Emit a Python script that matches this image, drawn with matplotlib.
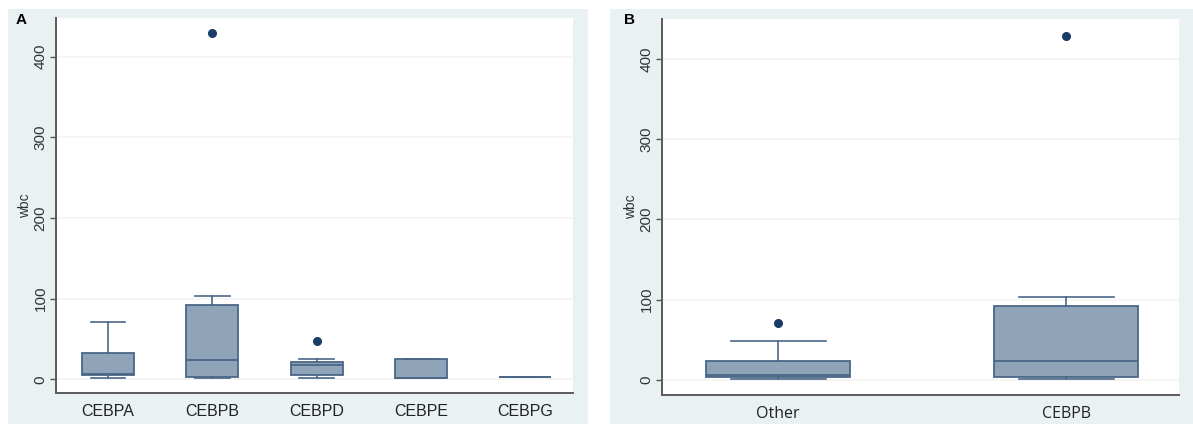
import matplotlib
matplotlib.use("Agg")
import matplotlib.pyplot as plt
from matplotlib.patches import Rectangle

plt.rcParams['font.family'] = ['Liberation Sans', 'DejaVu Sans']

# panel A: wbc by CEBP family member
groups_a = ["CEBPA", "CEBPB", "CEBPD", "CEBPE", "CEBPG"]
q1_a = [5.4, 3, 5, 1.7, 3]
med_a = [6, 24, 17.5, 2, 3]
q3_a = [33, 92, 22, 25, 3]
lo_a = [1, 1, 1, 1.7, 3]
hi_a = [71, 103, 25, 25, 3]
fliers_a = [[], [429], [48], [], []]

# panel B: other vs CEBPB
groups_b = ["Other", "CEBPB"]
q1_b = [3.4, 3]
med_b = [6, 24]
q3_b = [23, 92]
lo_b = [0.5, 1]
hi_b = [48, 103]
fliers_b = [[71], [429]]

yticks = [0, 100, 200, 300, 400]

bg = "#eaf1f3"
fill = "#8fa3b9"
edge = "#4a6788"
dot = "#1a3c68"


def make_stats(names, q1, med, q3, lo, hi, fl):
    out = []
    for i in range(len(names)):
        out.append({"label": names[i], "q1": q1[i], "med": med[i], "q3": q3[i],
                    "whislo": lo[i], "whishi": hi[i], "fliers": fl[i]})
    return out


def draw_panel(ax, stats, xlim, ylim, tickfont):
    n = len(stats)
    ax.set_facecolor("white")
    ax.bxp(stats, positions=range(1, n + 1), widths=0.5, capwidths=0.33,
           patch_artist=True, showfliers=True,
           boxprops=dict(facecolor=fill, edgecolor=edge, linewidth=1.3),
           medianprops=dict(color=edge, linewidth=1.3),
           whiskerprops=dict(color=edge, linewidth=1.2),
           capprops=dict(color=edge, linewidth=1.2),
           flierprops=dict(marker="o", markerfacecolor=dot, markeredgecolor=dot,
                           markersize=5.5))
    ax.set_xlim(*xlim)
    ax.set_ylim(*ylim)
    ax.set_yticks(yticks)
    ax.set_yticklabels([str(t) for t in yticks], rotation=90, va="center",
                       fontsize=11, color="#333333")
    ax.set_xticks(range(1, n + 1))
    ax.set_xticklabels([s["label"] for s in stats], fontsize=11.5,
                       color="#222222", family=tickfont)
    ax.tick_params(axis="x", length=0, pad=8)
    ax.tick_params(axis="y", length=4, width=1, color="#555555", pad=2)
    for s in ["top", "right"]:
        ax.spines[s].set_visible(False)
    for s in ["left", "bottom"]:
        ax.spines[s].set_color("#5a5a5a")
        ax.spines[s].set_linewidth(1.4)
    ax.yaxis.grid(True, color="#f3f3f3", linewidth=1.2)
    ax.set_axisbelow(True)
    ax.set_ylabel("wbc", fontsize=10, color="#333333", labelpad=1)


fig = plt.figure(figsize=(11.93, 4.25), dpi=100)
W, H = 1193, 425

# light panel backgrounds, behind the axes
fig.patches.append(Rectangle((8 / W, 1 - 424 / H), 580 / W, 415 / H,
                             transform=fig.transFigure, facecolor=bg,
                             edgecolor="none", zorder=-5))
fig.patches.append(Rectangle((610 / W, 1 - 424 / H), 583 / W, 415 / H,
                             transform=fig.transFigure, facecolor=bg,
                             edgecolor="none", zorder=-5))

ax1 = fig.add_axes([56 / W, 1 - 393 / H, 517 / W, 375 / H])
draw_panel(ax1, make_stats(groups_a, q1_a, med_a, q3_a, lo_a, hi_a, fliers_a),
           (0.5, 5.46), (-17, 448), ["Liberation Sans", "DejaVu Sans"])

ax2 = fig.add_axes([662 / W, 1 - 395 / H, 517 / W, 376 / H])
draw_panel(ax2, make_stats(groups_b, q1_b, med_b, q3_b, lo_b, hi_b, fliers_b),
           (0.597, 2.392), (-19, 450), ["Open Sans", "DejaVu Sans"])

fig.text(16 / W, 1 - 20 / H, "A", fontsize=11, fontweight="bold", va="center")
fig.text(624 / W, 1 - 20 / H, "B", fontsize=11, fontweight="bold", va="center")

fig.savefig("out.png", dpi=100)
